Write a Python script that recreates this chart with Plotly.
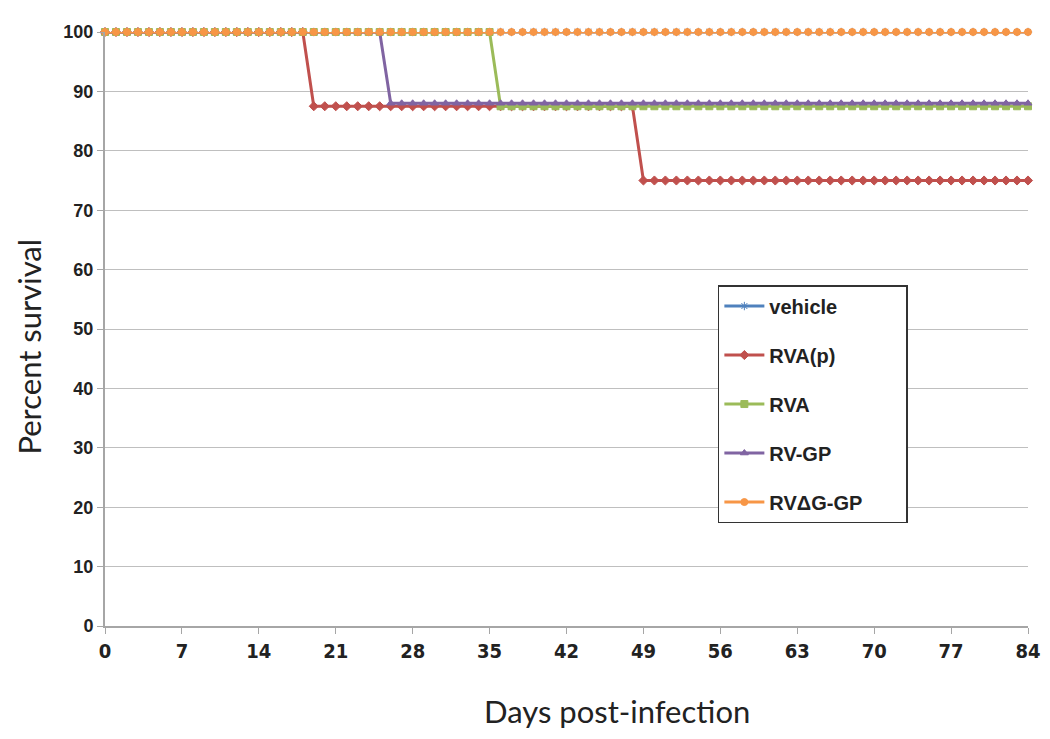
import plotly.graph_objects as go

days = list(range(0, 85))
tick_days = [0, 7, 14, 21, 28, 35, 42, 49, 56, 63, 70, 77, 84]
y_ticks = [0, 10, 20, 30, 40, 50, 60, 70, 80, 90, 100]

vehicle = [100.0] * 85
rva_p = [100.0] * 19 + [87.5] * 30 + [75.0] * 36
rva = [100.0] * 36 + [87.5] * 49
rv_gp = [100.0] * 26 + [88.0] * 59
rvdg_gp = [100.0] * 85

x_title = "Days post-infection"
y_title = "Percent survival"

series = [
    ("vehicle", vehicle, "#4F81BD", "asterisk-open"),
    ("RVA(p)", rva_p, "#C0504D", "diamond"),
    ("RVA", rva, "#9BBB59", "square"),
    ("RV-GP", rv_gp, "#8064A2", "triangle-up"),
    ("RV\u0394G-GP" + "\u00a0" * 7, rvdg_gp, "#F79646", "circle"),
]

fig = go.Figure()
for i, (name, vals, col, sym) in enumerate(series):
    fig.add_trace(go.Scatter(
        x=days, y=vals, name=name, mode="lines+markers",
        line=dict(color=col, width=3),
        marker=dict(symbol=sym, size=7, color=col,
                    line=dict(color=col, width=1)),
        cliponaxis=False, legendgroup=str(i),
    ))

title_font = dict(family="Lato, Open Sans, sans-serif", size=31, color="#222")

fig.update_layout(
    width=1050, height=739,
    margin=dict(l=97, r=30, t=24, b=121),
    paper_bgcolor="white", plot_bgcolor="white",
    showlegend=True,
    legend=dict(
        x=0.664, y=0.574, xanchor="left", yanchor="top",
        bordercolor="#333", borderwidth=1.5, bgcolor="white",
        font=dict(family="Liberation Sans, Arial", size=20, color="#222", weight="bold"),
        tracegroupgap=20, itemwidth=40,
    ),
    xaxis=dict(
        range=[0, 84], tickvals=tick_days, ticktext=[str(d) for d in tick_days],
        showgrid=False, zeroline=False, automargin=False,
        showline=True, linecolor="#A6A6A6", linewidth=2,
        ticks="outside", ticklen=6, tickcolor="#A6A6A6", tickwidth=1,
        tickfont=dict(family="Liberation Sans Narrow, DejaVu Sans Condensed, Liberation Sans, Arial",
                      size=20, color="#222", weight="bold"),
    ),
    yaxis=dict(
        range=[0, 100], tickvals=y_ticks,
        showgrid=True, gridcolor="#BFBFBF", gridwidth=1, zeroline=False, automargin=False,
        showline=True, linecolor="#A6A6A6", linewidth=2,
        ticks="outside", ticklen=6, tickcolor="#A6A6A6", tickwidth=1,
        tickfont=dict(family="Liberation Sans, Arial", size=18, color="#222", weight="bold"),
    ),
    annotations=[
        dict(text=x_title, xref="paper", yref="paper", x=0.555, y=-0.143,
             xanchor="center", yanchor="middle", showarrow=False, font=title_font),
        dict(text=y_title, xref="paper", yref="paper", x=-0.082, y=0.471,
             xanchor="center", yanchor="middle", textangle=-90, showarrow=False,
             font=title_font),
    ],
)

fig.write_html("out.html")
